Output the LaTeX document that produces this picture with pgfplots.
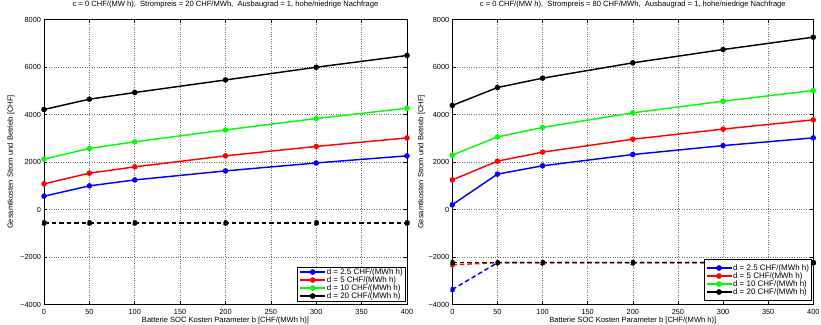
\documentclass[border=0pt]{standalone}
\usepackage{fontspec}
\setmainfont{Liberation Sans}
\usepackage{pgfplots}
\pgfplotsset{compat=1.18}

\definecolor{mblue}{RGB}{0,0,255}
\definecolor{mred}{RGB}{255,0,0}
\definecolor{mgreen}{RGB}{0,255,0}

\pgfplotsset{
  socaxis/.style={
    scale only axis, height=285bp,
    xmin=0, xmax=400, ymin=-4000, ymax=8000,
    xtick={0,50,...,400}, ytick={-4000,-2000,...,8000},
    yticklabels={−4000,−2000,0,2000,4000,6000,8000},
    grid=major,
    grid style={dotted, black!55, line width=0.5bp},
    tick align=inside, major tick length=3.5bp,
    tick style={black, line width=0.5bp},
    axis line style={line width=0.9bp},
    clip=false,
    /pgf/number format/assume math mode=true,
    /pgf/number format/set thousands separator={},
    ticklabel style={font=\fontsize{7.4}{8}\selectfont},
    xticklabel style={yshift=-1bp},
    yticklabel style={xshift=0.5bp},
    title style={font=\fontsize{7.6}{8}\selectfont, at={(axis description cs:0.5,1)}, anchor=center, yshift=9bp},
    xlabel style={font=\fontsize{7.6}{8}\selectfont, at={(axis description cs:0.5,0)}, anchor=center, yshift=-16.5bp},
    ylabel style={font=\fontsize{7.6}{8}\selectfont, rotate=0, anchor=center},
    xlabel={Batterie SOC Kosten Parameter b [CHF/(MWh h)]},
    ylabel={Gesamtkosten Strom und Betrieb [CHF]},
    every axis plot/.append style={line width=1.45bp, mark=*, mark size=2bp},
    legend image code/.code={
      \draw[mark repeat=2, mark phase=2, #1, line width=1.6bp]
        plot coordinates {(0bp,0bp) (12.5bp,0bp) (25bp,0bp)};
    },
    legend cell align=left,
    legend style={font=\fontsize{8}{8}\selectfont, draw=black, line width=0.9bp,
      fill=white, inner xsep=1.5bp, inner ysep=1bp, row sep=0bp,
      nodes={inner sep=0.8bp, text height=5.4bp, text depth=1bp},
      anchor=south east, at={(axis description cs:1,0)}},
  },
  dsh/.style={dash pattern=on 4.5bp off 3bp, forget plot},
}

\begin{document}
\begin{tikzpicture}
\useasboundingbox (0,0) rectangle (821bp,325bp);

% low price scenario
\begin{axis}[socaxis, at={(44bp,20.5bp)}, anchor=south west, width=363bp,
  ylabel style={at={(axis description cs:-0.0909,0.5)}},
  legend style={xshift=-1.5bp, yshift=3bp},
  title={c = 0 CHF/(MW h),\ \ Strompreis = 20 CHF/MWh,\ \ Ausbaugrad = 1, hohe/niedrige Nachfrage}]
\addplot[mblue] coordinates {(0,560)(50,995)(100,1245)(200,1625)(300,1960)(400,2260)};
\addlegendentry{d = 2.5 CHF/(MWh h)}
\addplot[mred] coordinates {(0,1080)(50,1530)(100,1795)(200,2260)(300,2655)(400,3015)};
\addlegendentry{d = 5 CHF/(MWh h)}
\addplot[mgreen] coordinates {(0,2120)(50,2570)(100,2850)(200,3350)(300,3830)(400,4265)};
\addlegendentry{d = 10 CHF/(MWh h)}
\addplot[black] coordinates {(0,4210)(50,4645)(100,4925)(200,5455)(300,5990)(400,6485)};
\addlegendentry{d = 20 CHF/(MWh h)}
\addplot[mblue, dsh] coordinates {(0,-565)(50,-565)(100,-565)(200,-565)(300,-565)(400,-565)};
\addplot[mred, dsh] coordinates {(0,-565)(50,-565)(100,-565)(200,-565)(300,-565)(400,-565)};
\addplot[mgreen, dsh] coordinates {(0,-565)(50,-565)(100,-565)(200,-565)(300,-565)(400,-565)};
\addplot[black, dsh] coordinates {(0,-565)(50,-565)(100,-565)(200,-565)(300,-565)(400,-565)};
\end{axis}

% high price scenario
\begin{axis}[socaxis, at={(452.3bp,20.5bp)}, anchor=south west, width=361bp,
  ylabel style={at={(axis description cs:-0.0859,0.5)}},
  legend style={xshift=-1.5bp, yshift=3.5bp, inner ysep=4.5bp},
  title={c = 0 CHF/(MW h),\ \ Strompreis = 80 CHF/MWh,\ \ Ausbaugrad = 1, hohe/niedrige Nachfrage}]
\addplot[mblue] coordinates {(0,200)(50,1490)(100,1840)(200,2315)(300,2690)(400,3015)};
\addlegendentry{d = 2.5 CHF/(MWh h)}
\addplot[mred] coordinates {(0,1245)(50,2035)(100,2415)(200,2960)(300,3385)(400,3775)};
\addlegendentry{d = 5 CHF/(MWh h)}
\addplot[mgreen] coordinates {(0,2290)(50,3055)(100,3455)(200,4070)(300,4560)(400,5010)};
\addlegendentry{d = 10 CHF/(MWh h)}
\addplot[black] coordinates {(0,4380)(50,5135)(100,5530)(200,6175)(300,6735)(400,7255)};
\addlegendentry{d = 20 CHF/(MWh h)}
\addplot[mblue, dsh] coordinates {(0,-3370)(50,-2240)(100,-2240)(200,-2240)(300,-2240)(400,-2240)};
\addplot[mred, dsh] coordinates {(0,-2330)(50,-2240)(100,-2240)(200,-2240)(300,-2240)(400,-2240)};
\addplot[mgreen, dsh] coordinates {(0,-2240)(50,-2240)(100,-2240)(200,-2240)(300,-2240)(400,-2240)};
\addplot[black, dsh] coordinates {(0,-2240)(50,-2240)(100,-2240)(200,-2240)(300,-2240)(400,-2240)};
\end{axis}
\end{tikzpicture}
\end{document}
